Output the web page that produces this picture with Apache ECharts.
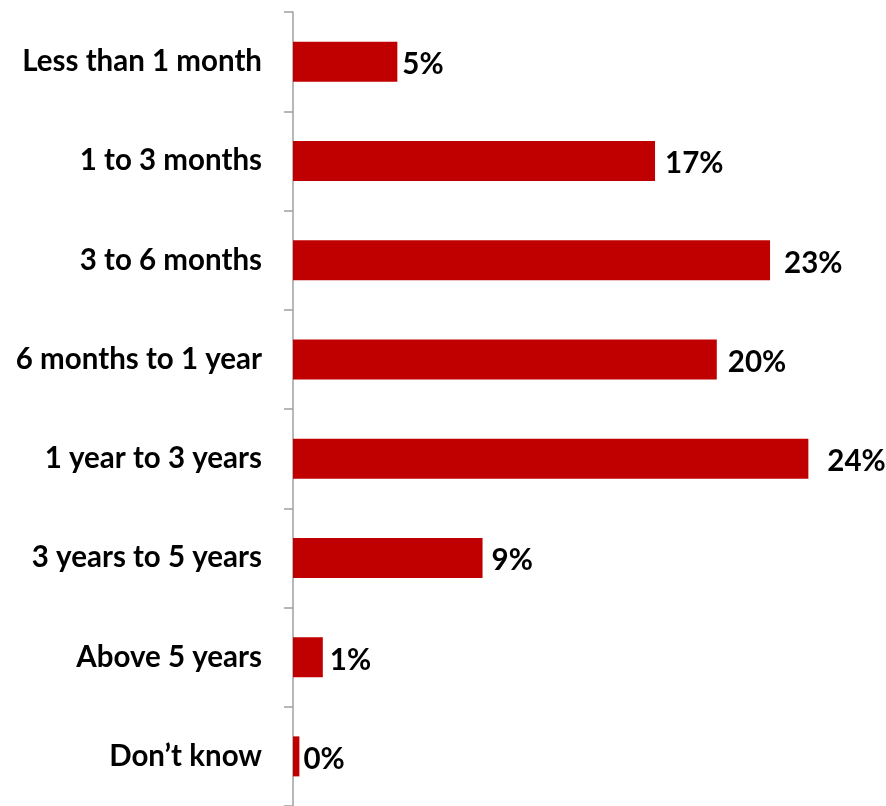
<!DOCTYPE html>
<html>
<head>
<meta charset="utf-8">
<script src="https://cdn.jsdelivr.net/npm/echarts@6/dist/echarts.min.js"></script>
<style>
  html, body { margin: 0; padding: 0; background: #fff; }
  #chart { width: 886px; height: 806px; }
</style>
</head>
<body>
<div id="chart"></div>
<script>
// categories, top to bottom
var categories = ['Less than 1 month', '1 to 3 months', '3 to 6 months', '6 months to 1 year',
    '1 year to 3 years', '3 years to 5 years', 'Above 5 years', 'Don\u2019t know'];
// bar lengths (percent)
var values = [4.9, 17.0, 22.4, 19.9, 24.2, 8.9, 1.4, 0.3];
// printed labels
var labels = ['5%', '17%', '23%', '20%', '24%', '9%', '1%', '0%'];

(function () {
    var myChart = echarts.init(document.getElementById('chart'));
    // gap between bar end and label differs a little in the original
    var gaps = [5, 10, 14, 11, 19, 9, 7, 4];

    var option = {
        animation: false,
        textStyle: { fontFamily: 'Lato' },
        grid: { left: 293, top: 12, width: 575, height: 795 },
        xAxis: { type: 'value', min: 0, max: 27, show: false },
        yAxis: {
            type: 'category',
            inverse: true,
            data: categories,
            axisLine: { lineStyle: { color: '#A0A0A0', width: 1.5 } },
            axisTick: { show: true, inside: false, length: 9, lineStyle: { color: '#A0A0A0', width: 1.5 } },
            axisLabel: { margin: 31, fontSize: 29.5, fontWeight: 'bold', color: '#000', fontFamily: 'Lato' }
        },
        series: [{
            type: 'bar',
            barWidth: 40,
            itemStyle: { color: '#C00000' },
            data: values.map(function (v, i) {
                return {
                    value: v,
                    label: {
                        show: true,
                        position: 'right',
                        distance: gaps[i],
                        offset: [0, 3],
                        formatter: labels[i],
                        fontSize: 29.5,
                        fontWeight: 'bold',
                        color: '#000',
                        fontFamily: 'Lato'
                    }
                };
            })
        }]
    };
    myChart.setOption(option);
})();
</script>
</body>
</html>
